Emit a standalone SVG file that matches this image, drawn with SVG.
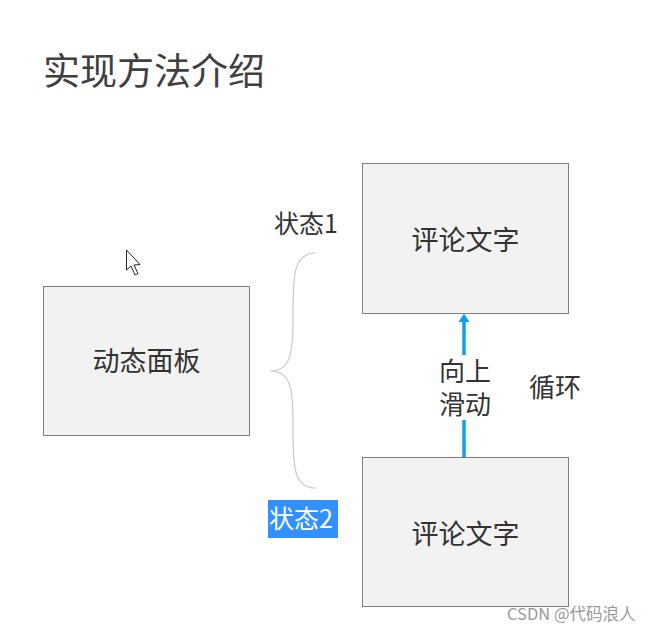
<svg xmlns="http://www.w3.org/2000/svg" width="659" height="632" viewBox="0 0 659 632">
<defs>
<style>
.box{fill:#f2f2f2;stroke:#7f7f7f;stroke-width:1}
.t{font-family:"Noto Sans CJK SC","Liberation Sans",sans-serif;fill:#333;}
.lbl{font-size:27px;text-anchor:middle}
.tight{font-family:"Liberation Sans","Noto Sans CJK SC",sans-serif;fill:#333;}
</style>
</defs>
<rect width="659" height="632" fill="#fff"/>
<text class="t" x="43" y="85" font-size="37" style="fill:#404040">实现方法介绍</text>
<polygon points="126.5,250 126.5,270 131,266 135,275 138,273.5 134,265 140,264.5" fill="#fff" stroke="#222" stroke-width="1"/>
<g id="connectors">
<path d="M316,253 C292,253 293,278 293,320 C293,355 290,371 270,371 C290,371 293,387 293,422 C293,464 292,488 316,488" fill="none" stroke="#c8c8c8" stroke-width="1.2"/>
<line x1="464" y1="355" x2="464" y2="320" stroke="#0ea0e8" stroke-width="3.5"/>
<polygon points="464,313.5 458.5,322 469.5,322" fill="#0ea0e8"/>
<line x1="464" y1="457" x2="464" y2="420" stroke="#0ea0e8" stroke-width="3.5"/>
</g>
<g id="panel">
<rect class="box" x="43.5" y="286.5" width="206" height="149"/>
<text class="t lbl" x="146.5" y="371">动态面板</text>
</g>
<g id="comment1">
<rect class="box" x="362.5" y="163.5" width="206" height="150"/>
<text class="t lbl" x="465.5" y="250">评论文字</text>
</g>
<g id="comment2">
<rect class="box" x="362.5" y="457.5" width="206" height="149"/>
<text class="t lbl" x="465.5" y="544">评论文字</text>
</g>
<g id="labels">
<text class="t" x="274" y="233" font-size="25">状态1</text>
<rect x="268" y="500" width="70" height="38" fill="#3390ff"/>
<text class="t" x="269" y="528" font-size="25" style="fill:#fff">状态2</text>
<text class="tight" x="439" y="381" font-size="26">向上</text>
<text class="tight" x="439" y="414" font-size="26">滑动</text>
<text class="t" x="529" y="397" font-size="26">循环</text>
</g>
<text x="507" y="620" font-family="'Noto Sans CJK SC','Liberation Sans',sans-serif" font-size="16.5" fill="#999">CSDN @代码浪人</text>
</svg>
